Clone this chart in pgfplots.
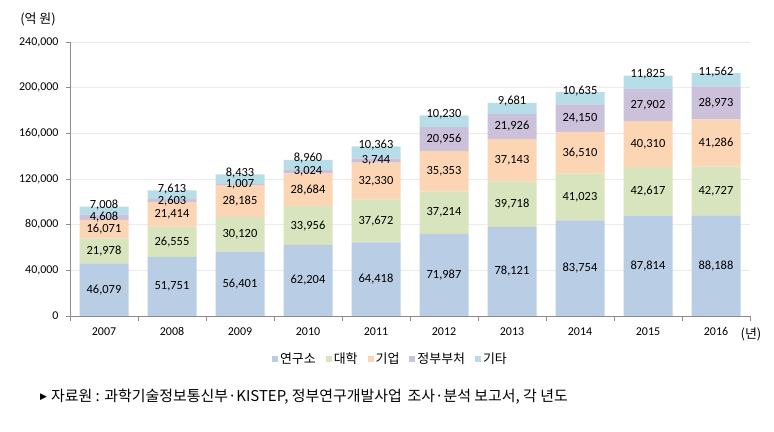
\documentclass[border=0pt]{standalone}
\usepackage{pgfplots}
\pgfplotsset{compat=1.18}
\usepackage{pgfplotstable}
\usepackage{fontspec}
\setmainfont{Carlito}
\newfontfamily\kr{Noto Sans CJK KR}
\newfontfamily\dv{DejaVu Sans}
\definecolor{cA}{HTML}{B9CDE5}
\definecolor{cB}{HTML}{D7E4BD}
\definecolor{cC}{HTML}{FCD5B5}
\definecolor{cD}{HTML}{CCC1DA}
\definecolor{cE}{HTML}{B7DEE8}
\definecolor{axgray}{HTML}{8C8C8C}
\definecolor{gridgray}{HTML}{EBEBEB}

\pgfplotstableread{
x a b c d e
0 46079 21978 16071 4608 7008
1 51751 26555 21414 2603 7613
2 56401 30120 28185 1007 8433
3 62204 33956 28684 3024 8960
4 64418 37672 32330 3744 10363
5 71987 37214 35353 20956 10230
6 78121 39718 37143 21926 9681
7 83754 41023 36510 24150 10635
8 87814 42617 40310 27902 11825
9 88188 42727 41286 28973 11562
}\data

\pgfplotsset{
  common/.style={
    at={(70bp,116bp)}, anchor=south west,
    scale only axis, width=680bp, height=274bp,
    xmin=-0.5, xmax=9.5, ymin=0, ymax=240000,
    /pgf/number format/.cd, fixed, precision=0, 1000 sep={,}, assume math mode=true,
    /pgfplots/.cd,
  },
  lbl/.style={draw=none, mark=none, nodes near coords, point meta=explicit,
    every node near coord/.append style={anchor=center, font=\fontsize{12.5}{14}\selectfont, inner sep=0pt}},
}

\begin{document}
\begin{tikzpicture}
\path[use as bounding box] (0,0) rectangle (774bp,432bp);
\begin{axis}[common,
  ybar stacked, bar width=49bp,
  axis lines*=left,
  axis line style={draw=axgray, line width=0.8bp},
  xtick={0,1,2,3,4,5,6,7,8,9},
  xticklabels={2007,2008,2009,2010,2011,2012,2013,2014,2015,2016},
  major x tick style={draw=none},
  minor xtick={-0.5,0.5,...,9.5},
  minor x tick style={draw=axgray, line width=0.8bp},
  minor tick length=5bp,
  ytick={0,40000,80000,120000,160000,200000,240000},
  major y tick style={draw=axgray, line width=0.8bp},
  major tick length=4bp,
  tick align=outside,
  scaled y ticks=false,
  ymajorgrids, grid style={draw=gridgray, line width=0.8bp},
  ticklabel style={font=\fontsize{12}{14}\selectfont},
  yticklabel style={xshift=-4bp},
  xticklabel style={yshift=-4bp},
  legend style={at={(0.4713,-0.157)}, anchor=center, draw=none, fill=none,
    font=\kr\fontsize{13}{15}\selectfont, legend columns=5,
    /tikz/every even column/.append style={column sep=8bp},
    inner sep=0pt},
  legend cell align=left,
  legend image code/.code={\fill[#1] (0bp,-3bp) rectangle (6bp,3bp);},
]
\addplot[fill=cA, draw=none] table[x=x, y=a] {\data};
\addplot[fill=cB, draw=none] table[x=x, y=b] {\data};
\addplot[fill=cC, draw=none] table[x=x, y=c] {\data};
\addplot[fill=cD, draw=none] table[x=x, y=d] {\data};
\addplot[fill=cE, draw=none] table[x=x, y=e] {\data};
\legend{연구소,대학,기업,정부부처,기타}
\end{axis}
\begin{axis}[common, axis lines=none, ticks=none]
\addplot[lbl] table[x=x, y expr=\thisrow{a}/2, meta=a] {\data};
\addplot[lbl] table[x=x, y expr=\thisrow{a}+\thisrow{b}/2, meta=b] {\data};
\addplot[lbl] table[x=x, y expr=\thisrow{a}+\thisrow{b}+\thisrow{c}/2, meta=c] {\data};
\addplot[lbl] table[x=x, y expr=\thisrow{a}+\thisrow{b}+\thisrow{c}+\thisrow{d}/2, meta=d] {\data};
\addplot[lbl, every node near coord/.append style={yshift=1.5bp}] table[x=x, y expr=\thisrow{a}+\thisrow{b}+\thisrow{c}+\thisrow{d}+\thisrow{e}, meta=e] {\data};
\end{axis}
\node[anchor=center, font=\kr\fontsize{13}{15}\selectfont] at (38bp,413bp) {(억 원)};
\node[anchor=center, font=\kr\fontsize{13}{15}\selectfont] at (751bp,98bp) {(년)};
\node[anchor=west, inner sep=0pt, font=\kr\fontsize{15}{17}\selectfont] at (40bp,35bp) {\raisebox{2.5bp}{\dv\fontsize{9}{10}\selectfont ▶}\hspace{4bp}자료원 : 과학기술정보통신부·KISTEP, 정부연구개발사업 \,조사·분석 보고서, 각 년도};
\end{tikzpicture}
\end{document}
